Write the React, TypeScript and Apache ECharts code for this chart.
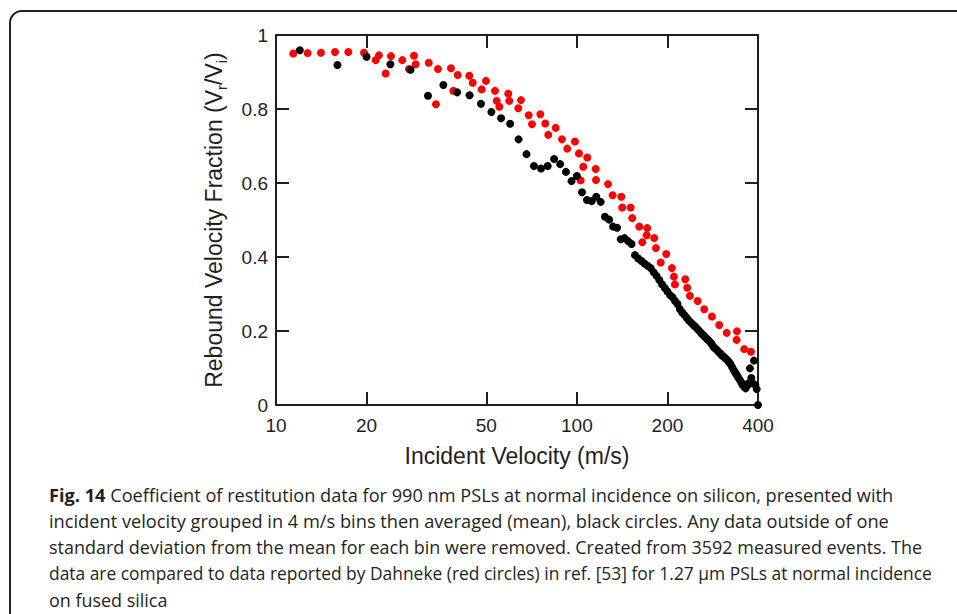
import React, { useEffect, useRef } from "react";
import * as echarts from "echarts";

// ---- data ----
const xTicks = [10, 20, 50, 100, 200, 400];
const yTicks = [0, 0.2, 0.4, 0.6, 0.8, 1];

// black circles: measured data, 4 m/s bins (bin centre velocity, m/s)
const blackVelocity = [
  12, 16, 20, 24, 28, 32, 36, 40, 44, 48, 52, 56, 60, 64, 68, 72, 76, 80, 84, 88,
  92, 96, 100, 104, 108, 112, 116, 120, 124, 128, 132, 136, 140, 144, 148, 152,
  156, 160, 164, 168, 172, 176, 180, 184, 188, 192, 196, 200, 204, 208, 212, 216,
  220, 224, 228, 232, 236, 240, 244, 248, 252, 256, 260, 264, 268, 272, 276, 280,
  284, 288, 292, 296, 300, 304, 308, 312, 316, 320, 324, 328, 332, 336, 340, 344,
  348, 352, 356, 360, 364, 368, 372, 376, 380, 384, 388, 392, 396, 400,
];
const blackFraction = [
  0.959, 0.919, 0.941, 0.921, 0.906, 0.836, 0.865, 0.845, 0.837, 0.814, 0.792, 0.775,
  0.76, 0.718, 0.678, 0.646, 0.639, 0.646, 0.665, 0.651, 0.63, 0.605, 0.619, 0.575,
  0.554, 0.551, 0.563, 0.549, 0.509, 0.501, 0.482, 0.479, 0.448, 0.451, 0.443, 0.435,
  0.405, 0.396, 0.389, 0.382, 0.376, 0.37, 0.359, 0.349, 0.338, 0.326, 0.316, 0.307,
  0.297, 0.291, 0.281, 0.273, 0.259, 0.25, 0.243, 0.235, 0.228, 0.222, 0.216, 0.211,
  0.205, 0.199, 0.193, 0.188, 0.182, 0.177, 0.172, 0.166, 0.158, 0.153, 0.149, 0.143,
  0.139, 0.134, 0.13, 0.126, 0.122, 0.116, 0.111, 0.103, 0.095, 0.088, 0.081, 0.074,
  0.068, 0.061, 0.054, 0.049, 0.045, 0.053, 0.059, 0.099, 0.073, 0.059, 0.12, 0.054,
  0.043, 0.0,
];

// red circles: Dahneke data
const redVelocity = [
  11.41, 12.74, 14.11, 15.71, 17.39, 19.61, 21.45, 21.99, 23.15, 24.11, 26.29, 27.67,
  28.75, 29.13, 32.18, 34.54, 34.01, 38.16, 40.17, 38.84, 43.9, 45.06, 49.88, 48.27,
  53.44, 59.16, 54.15, 55.23, 59.62, 65.2, 63.88, 69.17, 75.6, 70.94, 78.52, 85.03,
  80.35, 89.22, 98.56, 92.9, 101.6, 108.3, 105.0, 115.5, 102.9, 115.8, 126.9, 131.5,
  140.5, 141.5, 151.0, 152.8, 161.2, 171.4, 170.6, 180.8, 165.0, 183.2, 198.2, 189.9,
  207.0, 210.2, 211.8, 229.2, 232.8, 237.6, 252.1, 265.1, 281.2, 297.3, 314.7, 340.4,
  339.7, 359.8, 378.9,
];
const redFraction = [
  0.95, 0.951, 0.952, 0.954, 0.954, 0.952, 0.932, 0.945, 0.896, 0.943, 0.932, 0.908,
  0.944, 0.921, 0.925, 0.908, 0.813, 0.91, 0.892, 0.849, 0.89, 0.871, 0.876, 0.853,
  0.849, 0.841, 0.822, 0.806, 0.822, 0.824, 0.802, 0.783, 0.786, 0.759, 0.761, 0.749,
  0.73, 0.718, 0.712, 0.693, 0.68, 0.669, 0.644, 0.638, 0.607, 0.608, 0.597, 0.567,
  0.563, 0.534, 0.534, 0.505, 0.482, 0.478, 0.459, 0.451, 0.44, 0.424, 0.408, 0.385,
  0.37, 0.347, 0.326, 0.34, 0.317, 0.295, 0.281, 0.259, 0.239, 0.216, 0.195, 0.199,
  0.176, 0.151, 0.144,
];

const xTitle = "Incident Velocity (m/s)";
const yTitleRich = "{a|Rebound Velocity Fraction (V}{s|r}{a|/V}{s|i}{a|)}";

const captionBold = "Fig. 14";
const captionLines = [
  " Coefficient of restitution data for 990 nm PSLs at normal incidence on silicon, presented with",
  "incident velocity grouped in 4 m/s bins then averaged (mean), black circles. Any data outside of one",
  "standard deviation from the mean for each bin were removed. Created from 3592 measured events. The",
  "data are compared to data reported by Dahneke (red circles) in ref. [53] for 1.27 μm PSLs at normal incidence",
  "on fused silica",
];
// right edge (px) of each full caption line in the reference (last line: natural width)
const captionRightEdge: (number | null)[] = [894, 889, 923, 932, null];

const INK = "#1e1e1e";
const AXIS_FONT = "Liberation Sans";
const CAPTION_FONT = "Open Sans";
const CAPTION_SIZE = 18.6;
const CAPTION_LEFT = 49;

function measure(text: string, weight: string): number {
  const c = document.createElement("canvas").getContext("2d");
  if (!c) return text.length * CAPTION_SIZE * 0.5;
  c.font = `${weight} ${CAPTION_SIZE}px "${CAPTION_FONT}"`;
  return c.measureText(text).width;
}

export default function App() {
  const ref = useRef<HTMLDivElement>(null);

  useEffect(() => {
    if (!ref.current) return;
    const chart = echarts.init(ref.current, undefined, { renderer: "svg" });

    const blackData = blackVelocity.map((v, i) => [v, blackFraction[i]]);
    const redData = redVelocity.map((v, i) => [v, redFraction[i]]);

    const axisLineStyle = { color: INK, width: 2 };

    const scales = captionLines.map((line, i) => {
      const target = captionRightEdge[i];
      if (target == null) return null;
      const w = measure(line, "normal") + (i === 0 ? measure(captionBold, "bold") : 0);
      return w > 0 ? Math.min(1.1, Math.max(0.85, (target - CAPTION_LEFT) / w)) : 1;
    });
    const known = scales.filter((s) => s != null) as number[];
    const meanScale = known.length ? known.reduce((a, b) => a + b, 0) / known.length : 1;

    const captionGraphics = captionLines.map((line, i) => ({
      type: "text",
      x: CAPTION_LEFT,
      y: 494 + i * 26.4,
      scaleX: scales[i] ?? meanScale,
      style: {
        text: i === 0 ? `{b|${captionBold}}${line}` : line,
        fill: "#231f20",
        fontFamily: CAPTION_FONT,
        fontSize: CAPTION_SIZE,
        textAlign: "left",
        textVerticalAlign: "middle",
        rich: {
          b: { fontFamily: CAPTION_FONT, fontSize: CAPTION_SIZE, fontWeight: "bold", fill: "#231f20" },
        },
      },
    }));

    const option: any = {
      animation: false,
      backgroundColor: "#ffffff",
      grid: { left: 276, right: 199, top: 35, bottom: 209, containLabel: false, outerBoundsMode: "none" },
      xAxis: [
        {
          type: "log",
          logBase: 10,
          min: 10,
          max: 400,
          position: "bottom",
          axisLine: { show: true, onZero: false, lineStyle: axisLineStyle },
          axisTick: { show: true, inside: true, length: 13, customValues: xTicks, lineStyle: axisLineStyle },
          axisLabel: {
            show: true,
            customValues: xTicks,
            fontSize: 19,
            fontFamily: AXIS_FONT,
            color: INK,
            margin: 11,
            formatter: (v: number) => String(Math.round(v)),
          },
          splitLine: { show: false },
          minorTick: { show: false },
        },
        {
          type: "log",
          logBase: 10,
          min: 10,
          max: 400,
          position: "top",
          axisLine: { show: true, onZero: false, lineStyle: axisLineStyle },
          axisTick: { show: true, inside: true, length: 13, customValues: xTicks, lineStyle: axisLineStyle },
          axisLabel: { show: false },
          splitLine: { show: false },
        },
      ],
      yAxis: [
        {
          type: "value",
          min: 0,
          max: 1,
          interval: 0.2,
          position: "left",
          axisLine: { show: true, onZero: false, lineStyle: axisLineStyle },
          axisTick: { show: true, inside: true, length: 13, lineStyle: axisLineStyle },
          axisLabel: {
            show: true,
            fontSize: 19,
            fontFamily: AXIS_FONT,
            color: INK,
            margin: 8,
            formatter: (v: number) => {
              const t = yTicks.find((k) => Math.abs(k - v) < 1e-9);
              return t === undefined ? "" : String(t);
            },
          },
          splitLine: { show: false },
        },
        {
          type: "value",
          min: 0,
          max: 1,
          interval: 0.2,
          position: "right",
          axisLine: { show: true, onZero: false, lineStyle: axisLineStyle },
          axisTick: { show: true, inside: true, length: 13, lineStyle: axisLineStyle },
          axisLabel: { show: false },
          splitLine: { show: false },
        },
      ],
      series: [
        {
          name: "Dahneke",
          type: "scatter",
          xAxisIndex: 0,
          yAxisIndex: 0,
          data: redData,
          symbol: "circle",
          symbolSize: 8,
          itemStyle: { color: "#ff0000", opacity: 1 },
          z: 2,
        },
        {
          name: "Measured",
          type: "scatter",
          xAxisIndex: 0,
          yAxisIndex: 0,
          data: blackData,
          symbol: "circle",
          symbolSize: 8,
          itemStyle: { color: "#000000", opacity: 1 },
          z: 3,
        },
      ],
      graphic: [
        {
          type: "rect",
          shape: { x: 10, y: 11, width: 1000, height: 700, r: 12 },
          style: { fill: "none", stroke: "#222222", lineWidth: 2 },
          silent: true,
        },
        {
          type: "text",
          x: 517,
          y: 456,
          style: {
            text: xTitle,
            fill: INK,
            fontFamily: AXIS_FONT,
            fontSize: 23,
            textAlign: "center",
            textVerticalAlign: "middle",
          },
        },
        {
          type: "text",
          x: 214,
          y: 220,
          rotation: Math.PI / 2,
          style: {
            text: yTitleRich,
            fill: INK,
            fontFamily: AXIS_FONT,
            fontSize: 23,
            textAlign: "center",
            textVerticalAlign: "middle",
            rich: {
              a: { fontFamily: AXIS_FONT, fontSize: 23, fill: INK, lineHeight: 30, verticalAlign: "middle" },
              s: { fontFamily: AXIS_FONT, fontSize: 15, fill: INK, lineHeight: 15, verticalAlign: "bottom" },
            },
          },
        },
        ...captionGraphics,
      ],
    };

    chart.setOption(option);
    return () => chart.dispose();
  }, []);

  return (
    <div
      ref={ref}
      style={{ position: "fixed", left: 0, top: 0, width: 957, height: 614, background: "#fff" }}
    />
  );
}
